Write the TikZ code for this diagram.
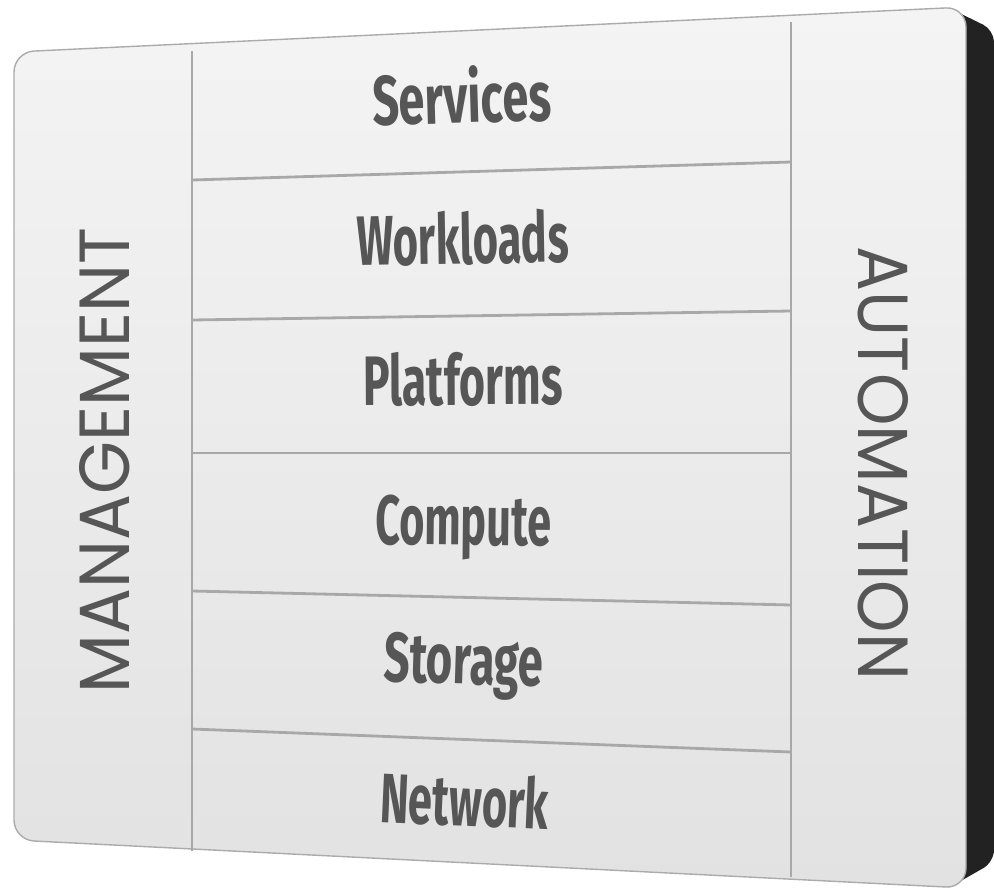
\documentclass[tikz,border=0pt]{standalone}
\usepackage{fontspec}
\usepackage{graphicx}
\newfontfamily\labfont{Fira Sans}
\newfontfamily\sidefont{Poppins}
\definecolor{txtgray}{HTML}{565656}
\definecolor{rulegray}{HTML}{A8A8A8}
\definecolor{edgegray}{HTML}{ABABAB}
\definecolor{sidedark}{HTML}{222222}
\definecolor{paneltop}{HTML}{F4F4F4}
\definecolor{panelbot}{HTML}{E2E2E2}
\tikzset{
  rulestyle/.style={draw=rulegray, line width=2.8pt},
  bandlabel/.style={inner sep=0pt, anchor=base, text=txtgray,
    font=\labfont\bfseries\fontsize{70}{70}\selectfont},
  sidelabel/.style={inner sep=0pt, anchor=center, text=txtgray}
}
\begin{document}
\begin{tikzpicture}[x=1pt,y=-1pt]
\useasboundingbox (0,0) rectangle (994,889);
% dark side of the slab
\fill[sidedark, rounded corners=12pt] (945,6) -- (994,30) -- (994,862) -- (945,890) -- cycle;
% panel face
\path[draw=edgegray, line width=1.4pt, top color=paneltop, bottom color=panelbot, rounded corners=20pt]
  (14,52) -- (966,7) -- (966,888) -- (14,840) -- cycle;
% named points
\coordinate (lt) at (192,51);  \coordinate (lb) at (192,851);
\coordinate (rt) at (791,22);  \coordinate (rb) at (791,877);
\coordinate (a1) at (192,180); \coordinate (b1) at (791,162);
\coordinate (a2) at (192,320); \coordinate (b2) at (791,311);
\coordinate (a3) at (192,453); \coordinate (b3) at (791,453);
\coordinate (a4) at (192,591); \coordinate (b4) at (791,605);
\coordinate (a5) at (192,729); \coordinate (b5) at (791,752);
\draw[rulestyle] (lt) -- (lb);
\draw[rulestyle] (rt) -- (rb);
\draw[rulestyle] (a1) -- (b1);
\draw[rulestyle] (a2) -- (b2);
\draw[rulestyle] (a3) -- (b3);
\draw[rulestyle] (a4) -- (b4);
\draw[rulestyle] (a5) -- (b5);
% band labels
\node[bandlabel, rotate=1.7] (services) at (462.5,123) {\resizebox{179pt}{\height}{Services}};
\node[bandlabel, rotate=1.0] (workloads) at (463,264) {\resizebox{212pt}{\height}{Workloads}};
\node[bandlabel, rotate=0.3] (platforms) at (463,405) {\resizebox{200pt}{\height}{Platforms}};
\node[bandlabel, rotate=-0.6] (compute) at (463,545) {\resizebox{176pt}{\height}{Compute}};
\node[bandlabel, rotate=-1.8] (storage) at (463,684) {\resizebox{160pt}{\height}{Storage}};
\node[bandlabel, rotate=-2.6] (network) at (463.5,826) {\resizebox{169pt}{\height}{Network}};
% side labels
\node[sidelabel, rotate=90] (management) at (105,460.5) {\resizebox{465pt}{50pt}{\sidefont MANAGEMENT}};
\node[sidelabel, rotate=-90] (automation) at (883,463.5) {\resizebox{433pt}{50pt}{\sidefont AUTOMATION}};
\end{tikzpicture}
\end{document}
